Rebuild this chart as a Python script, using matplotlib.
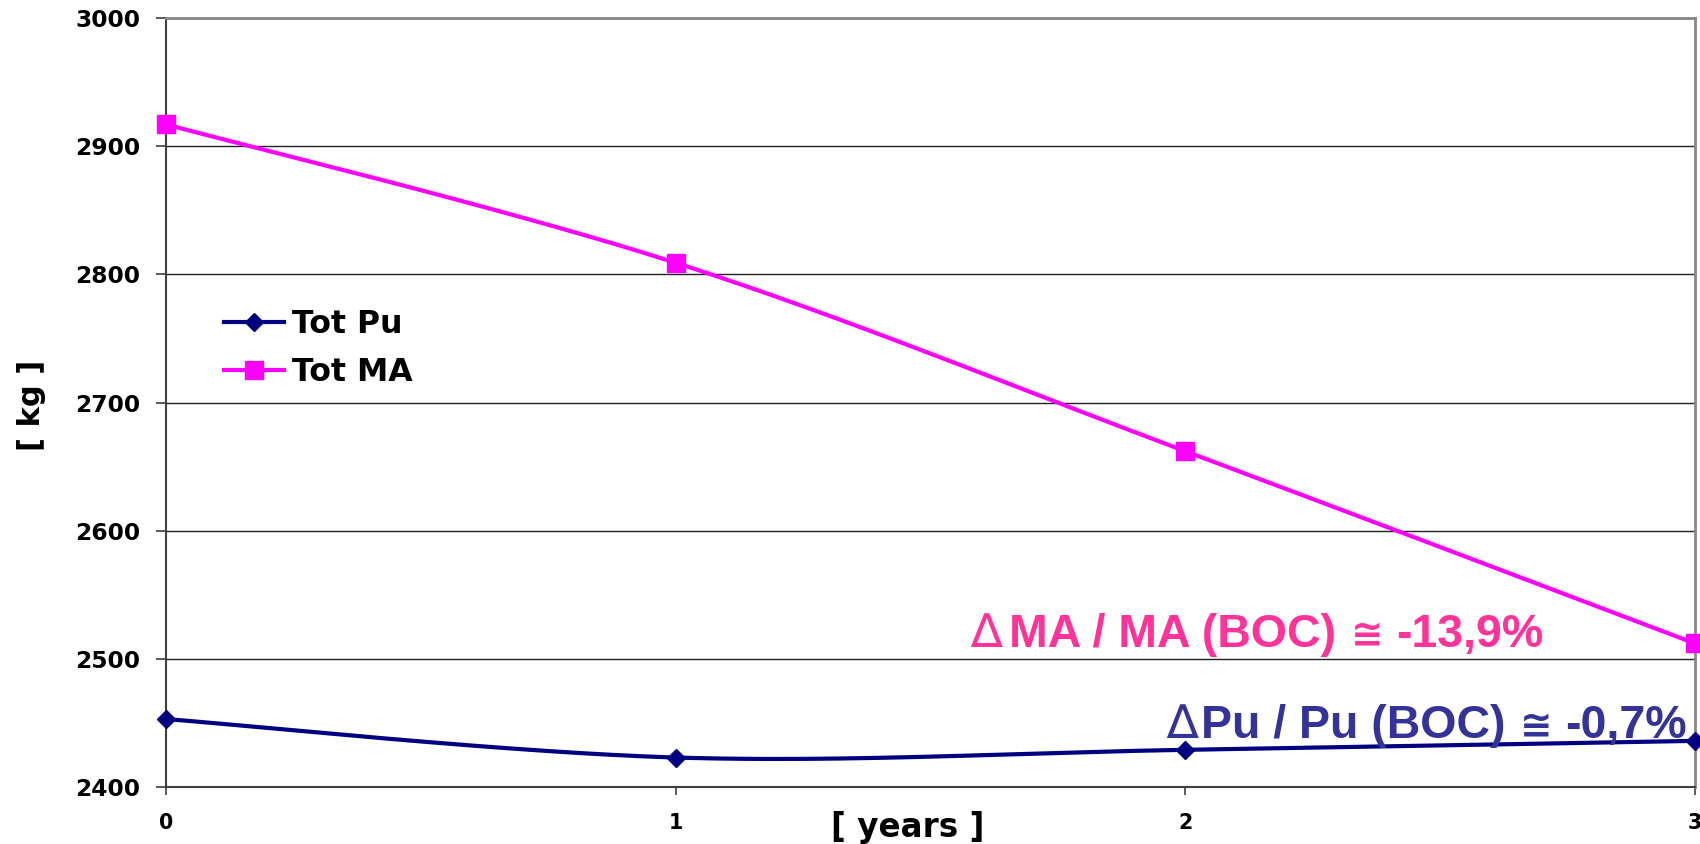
import numpy as np
import matplotlib
matplotlib.use("Agg")
import matplotlib.pyplot as plt
from matplotlib.lines import Line2D

# Inventory over the cycle
years = [0, 1, 2, 3]
tot_pu = [2453, 2423, 2429, 2436]
tot_ma = [2917, 2809, 2662, 2512]
series_labels = ["Tot Pu", "Tot MA"]
y_ticks = [2400, 2500, 2600, 2700, 2800, 2900, 3000]
pu_note = ["\u2206", "Pu / Pu (BOC)", "\u2245", "-0,7%"]
ma_note = ["\u2206", "MA / MA (BOC)", "\u2245", "-13,9%"]

FONT = ["DejaVu Sans"]
NOTE_FONT = ["Liberation Sans", "DejaVu Sans"]
plt.rcParams["font.family"] = FONT

W, H = 1700, 844


def smooth(xs, ys, n=60):
    """Catmull-Rom style smoothed path through the points (spreadsheet smoothing)."""
    p = np.column_stack([xs, ys]).astype(float)
    pts = np.vstack([p[0], p, p[-1]])
    out = []
    for i in range(1, len(pts) - 2):
        p0, p1, p2, p3 = pts[i - 1], pts[i], pts[i + 1], pts[i + 2]
        c1 = p1 + (p2 - p0) / 6.0
        c2 = p2 - (p3 - p1) / 6.0
        t = np.linspace(0, 1, n)[:, None]
        seg = ((1 - t) ** 3) * p1 + 3 * ((1 - t) ** 2) * t * c1 + 3 * (1 - t) * t ** 2 * c2 + t ** 3 * p2
        out.append(seg if i == 1 else seg[1:])
    seg = np.vstack(out)
    return seg[:, 0], seg[:, 1]


fig = plt.figure(figsize=(17, 8.44), dpi=100)
ax = fig.add_axes([166 / W, 1 - 787 / H, (1695 - 166) / W, (787 - 18) / H])

pu_col = "#000080"
ma_col = "#FF00FF"

for vals, col, mk, ms in [(tot_pu, pu_col, "D", 8.7), (tot_ma, ma_col, "s", 13.5)]:
    sx, sy = smooth(years, vals)
    ax.plot(sx, sy, color=col, lw=3, solid_capstyle="round", zorder=3, clip_on=False)
    ax.plot(years, vals, ls="none", marker=mk, ms=ms, color=col, mec=col, zorder=4, clip_on=False)

ax.set_xlim(0, 3)
ax.set_ylim(2400, 3000)
ax.set_xticks(years)
ax.set_yticks(y_ticks)
ax.set_xticklabels([str(v) for v in years], fontsize=14.8, fontweight="bold")
ax.set_yticklabels([str(v) for v in y_ticks], fontsize=16.8, fontweight="bold")
ax.tick_params(axis="y", direction="out", length=7, width=1.2, color="#404040", pad=11.5)
ax.tick_params(axis="x", direction="out", length=6, width=1.2, color="#404040", pad=13)

ax.grid(axis="y", color="#222222", lw=1.0)
ax.set_axisbelow(True)
for side in ["left", "bottom"]:
    ax.spines[side].set_color("#404040")
    ax.spines[side].set_linewidth(1.5)
for side in ["top", "right"]:
    ax.spines[side].set_color("#888888")
    ax.spines[side].set_linewidth(2)

fig.text(31 / W, 1 - 405 / H, "[ kg ]", rotation=90, ha="center", va="center",
         fontsize=22, fontweight="bold")
fig.text(908 / W, 1 - 827 / H, "[ years ]", ha="center", va="center",
         fontsize=23.5, fontweight="bold")

handles = [
    Line2D([], [], color=pu_col, lw=3, marker="D", ms=8.7),
    Line2D([], [], color=ma_col, lw=3, marker="s", ms=13.5),
]
fig.legend(handles, series_labels, loc="upper left", bbox_to_anchor=(224 / W, 1 - 309 / H),
           frameon=False, borderpad=0, borderaxespad=0, handlelength=1.9, handletextpad=0.25,
           labelspacing=0.55, prop={"family": FONT, "weight": "bold", "size": 22.7})

renderer = fig.canvas.get_renderer()


def note(x_px, base_px, parts, color, gaps):
    """Write a note piece by piece along one baseline (delta sign and approx sign in a lighter face)."""
    styles = [
        dict(family=["DejaVu Sans"], fontweight="normal", fontsize=34),
        dict(family=NOTE_FONT, fontweight="bold", fontsize=33.5),
        dict(family=["DejaVu Sans"], fontweight="bold", fontsize=28),
        dict(family=NOTE_FONT, fontweight="bold", fontsize=33.5),
    ]
    x = x_px
    for s, st, gap in zip(parts, styles, gaps):
        t = fig.text(x / W, 1 - base_px / H, s, color=color, ha="left", va="baseline", **st)
        x = t.get_window_extent(renderer).x1 + gap


note(970, 647, ma_note, "#FF3399", [7, 15, 13, 0])
note(1166, 738, pu_note, "#333399", [3, 15, 12, 0])

fig.savefig("out.png", dpi=100, facecolor="white")
